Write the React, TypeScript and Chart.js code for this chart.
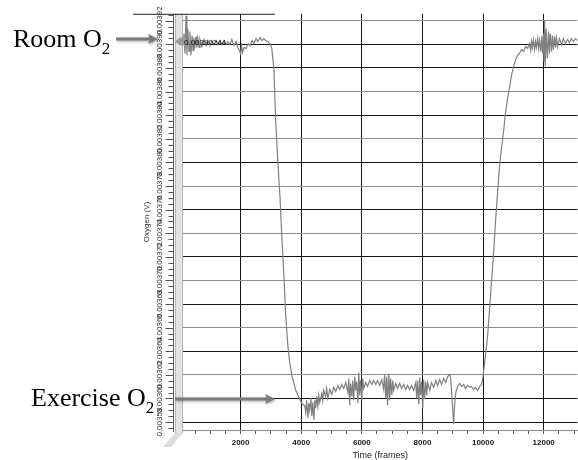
import React, { useEffect, useRef } from 'react';
import { Chart, registerables } from 'chart.js';

Chart.register(...registerables);

// ---- Data (frames, volts) ----
// Room air baseline + fall to exercise level
const roomFrames = [
  100, 130, 165, 200, 230, 260, 300, 330, 360, 400, 430, 460, 490, 530, 560, 590, 630, 660,
  720, 790, 860, 920, 990, 1050, 1120, 1190, 1250, 1320, 1380, 1450, 1520, 1580, 1650, 1710,
  1780, 1850, 1910, 2000, 2030, 2060, 2120, 2180, 2250, 2310, 2380, 2440, 2510, 2570, 2640,
  2700, 2770, 2830, 2900, 2970, 3030, 3100, 3160, 3230, 3300, 3360, 3430, 3490, 3560, 3620,
  3690, 3760, 3820, 3890, 3950, 4020, 4090,
];
const roomVolts = [
  0.0039016, 0.0039091, 0.0038923, 0.0039242, 0.0038907, 0.0039133, 0.003894, 0.0039108,
  0.0038907, 0.0039074, 0.0038949, 0.0039058, 0.0038965, 0.0039066, 0.0038974, 0.0039049,
  0.0038974, 0.0039041, 0.0038982, 0.0039041, 0.003899, 0.0039032, 0.003899, 0.0039032,
  0.0038999, 0.0039032, 0.0038999, 0.0039032, 0.0038999, 0.0039032, 0.0038999, 0.0039024,
  0.0038999, 0.0039041, 0.003899, 0.0039024, 0.0038974, 0.0038923, 0.003899, 0.0038932,
  0.0038974, 0.0038965, 0.0039007, 0.003899, 0.0039032, 0.0039007, 0.0039049, 0.0039024,
  0.0039058, 0.0039032, 0.0039049, 0.0039032, 0.0039024, 0.0039007, 0.0038965, 0.0038781,
  0.0038336, 0.0038, 0.0037706, 0.003737, 0.0037034, 0.0036698, 0.0036446, 0.0036304,
  0.0036195, 0.0036127, 0.0036069, 0.0036027, 0.0035993, 0.003596, 0.0035943,
];

// Exercise plateau
const exerciseFrames = [
  4120, 4150, 4180, 4220, 4250, 4280, 4320, 4350, 4380, 4420, 4450, 4480, 4510, 4550, 4580,
  4610, 4680, 4710, 4740, 4810, 4840, 4880, 4940, 5010, 5070, 5140, 5210, 5270, 5340, 5400,
  5470, 5540, 5570, 5600, 5630, 5670, 5700, 5730, 5770, 5800, 5830, 5870, 5900, 5930, 5960,
  6000, 6030, 6060, 6130, 6190, 6260, 6330, 6390, 6460, 6520, 6590, 6660, 6720, 6750, 6790,
  6820, 6850, 6890, 6920, 6950, 6990, 7020, 7050, 7120, 7180, 7250, 7310, 7380, 7450, 7510,
  7580, 7640, 7710, 7780, 7810, 7840, 7880, 7910, 7940, 7970, 8010, 8040, 8070, 8110, 8140,
  8170, 8240, 8300, 8370, 8440, 8500, 8570, 8630, 8700, 8770, 8830, 8900, 8930, 8960, 9000,
  9030, 9060, 9100, 9160, 9230, 9290, 9360, 9420, 9490, 9560, 9620, 9690, 9750, 9820, 9890,
  9950, 9990,
];
const exerciseVolts = [
  0.0035934, 0.0035884, 0.0035985, 0.0035834, 0.003596, 0.0035901, 0.0036002, 0.003585,
  0.0035968, 0.0035817, 0.0035985, 0.0035918, 0.0036018, 0.0035934, 0.0036027, 0.0035968,
  0.0036043, 0.0035985, 0.0036069, 0.0036018, 0.0036085, 0.0036002, 0.0036077, 0.0036035,
  0.0036094, 0.003606, 0.0036111, 0.0036077, 0.0036119, 0.0036085, 0.0036136, 0.0036052,
  0.0036169, 0.0035943, 0.0036127, 0.0036018, 0.0036153, 0.0035985, 0.0036186, 0.0036069,
  0.0036144, 0.003596, 0.003622, 0.0036027, 0.0036153, 0.0035985, 0.0036169, 0.0036085,
  0.0036136, 0.0036102, 0.0036153, 0.0036119, 0.0036153, 0.0036119, 0.0036153, 0.0036111,
  0.0036161, 0.0036077, 0.0036203, 0.0036002, 0.0036186, 0.0035943, 0.0036211, 0.0035985,
  0.0036169, 0.0036027, 0.0036153, 0.0036069, 0.0036127, 0.0036085, 0.0036127, 0.0036085,
  0.0036119, 0.0036077, 0.0036111, 0.0036077, 0.0036111, 0.0036069, 0.0036136, 0.0036002,
  0.0036153, 0.0035951, 0.0036178, 0.0036027, 0.0036144, 0.0035918, 0.0036161, 0.0035993,
  0.0036144, 0.0036027, 0.0036136, 0.0036069, 0.0036136, 0.0036094, 0.0036153, 0.0036111,
  0.0036161, 0.0036119, 0.0036169, 0.0036136, 0.0036186, 0.0036203, 0.0036169, 0.0036069,
  0.0035901, 0.0035783, 0.0035943, 0.0036052, 0.0036102, 0.0036127, 0.0036102, 0.0036119,
  0.0036085, 0.0036111, 0.0036094, 0.0036102, 0.0036077, 0.0036094, 0.0036069, 0.0036102,
  0.0036119, 0.0036169,
];

// Recovery back to room air
const recoveryFrames = [
  10020, 10080, 10150, 10210, 10280, 10350, 10410, 10480, 10540, 10610, 10680, 10740, 10810,
  10870, 10940, 11010, 11070, 11140, 11200, 11270, 11340, 11400, 11470, 11530, 11570, 11600,
  11630, 11660, 11700, 11730, 11760, 11800, 11830, 11860, 11900, 11930, 11960, 11990, 12010,
  12030, 12050, 12080, 12120, 12160, 12190, 12220, 12260, 12290, 12320, 12360, 12390, 12420,
  12460, 12520, 12590, 12650, 12720, 12790, 12850, 12920, 12980, 13050, 13110,
];
const recoveryVolts = [
  0.0036237, 0.0036363, 0.003653, 0.003674, 0.0036992, 0.0037244, 0.0037496, 0.0037748,
  0.0037958, 0.0038126, 0.0038268, 0.003842, 0.0038545, 0.0038629, 0.0038739, 0.0038814,
  0.0038865, 0.0038907, 0.0038923, 0.0038957, 0.003894, 0.0038982, 0.0038965, 0.0039007,
  0.0038949, 0.0039024, 0.0038974, 0.0039041, 0.0038957, 0.0039024, 0.0038974, 0.0039049,
  0.0038965, 0.0039032, 0.003894, 0.0039066, 0.0038923, 0.0039091, 0.0038856, 0.00392,
  0.0038814, 0.0039133, 0.0038881, 0.0039108, 0.0038923, 0.0039091, 0.003894, 0.0039074,
  0.0038957, 0.0039066, 0.0038974, 0.0039058, 0.0038982, 0.0039049, 0.0038999, 0.0039049,
  0.0039007, 0.0039041, 0.0039016, 0.0039049, 0.0039024, 0.0039049, 0.0039032,
];

// Axis settings
const xRange = [100, 13115];
const yRange = [0.0035733, 0.0039259];
const xMinorStep = 500;
const xLabelStep = 2000;
const yStep = 0.00002;
const yMinorStep = 0.000005;
const cursorValue = 0.00390244;

const xTitle = 'Time (frames)';
const yTitle = 'Oxygen (V)';
const roomLabel = 'Room O';
const exerciseLabel = 'Exercise O';
const subscript = '2';

const SANS = "'Liberation Sans', Arial, sans-serif";
const SERIF = "'Liberation Serif', 'Times New Roman', serif";

function drawArrow(ctx: CanvasRenderingContext2D, x1: number, y: number, x2: number) {
  ctx.save();
  ctx.shadowColor = 'rgba(0,0,0,0.35)';
  ctx.shadowBlur = 3;
  ctx.shadowOffsetX = 1;
  ctx.shadowOffsetY = 1;
  ctx.strokeStyle = '#7b7b7b';
  ctx.fillStyle = '#7b7b7b';
  ctx.lineWidth = 3;
  ctx.beginPath();
  ctx.moveTo(x1, y);
  ctx.lineTo(x2 - 7, y);
  ctx.stroke();
  ctx.beginPath();
  ctx.moveTo(x2, y);
  ctx.lineTo(x2 - 10, y - 5);
  ctx.lineTo(x2 - 8, y);
  ctx.lineTo(x2 - 10, y + 5);
  ctx.closePath();
  ctx.fill();
  ctx.restore();
}

const decorPlugin = {
  id: 'decor',
  beforeDatasetsDraw(chart: any) {
    const { ctx, chartArea: a, scales } = chart;
    const y = scales.y;
    ctx.save();
    // 3D side wall of the plot
    const wallL = a.left - 8;
    ctx.fillStyle = '#e3e3e3';
    ctx.fillRect(wallL, a.top, 8, a.bottom - a.top + 3);
    ctx.beginPath();
    ctx.moveTo(wallL, a.bottom + 3);
    ctx.lineTo(a.left, a.bottom + 3);
    ctx.lineTo(a.left - 12, a.bottom + 17);
    ctx.lineTo(a.left - 20, a.bottom + 17);
    ctx.closePath();
    ctx.fillStyle = '#dcdcdc';
    ctx.fill();
    ctx.strokeStyle = '#b5b5b5';
    ctx.lineWidth = 1;
    ctx.beginPath();
    ctx.moveTo(wallL + 0.5, a.top);
    ctx.lineTo(wallL + 0.5, a.bottom + 3);
    ctx.moveTo(a.left - 0.5, a.top);
    ctx.lineTo(a.left - 0.5, a.bottom + 3);
    ctx.stroke();

    // y axis line + major/minor ticks
    const axX = wallL - 1.5;
    ctx.strokeStyle = '#555';
    ctx.beginPath();
    ctx.moveTo(axX, a.top);
    ctx.lineTo(axX, a.bottom + 2);
    for (let v = Math.ceil(y.min / yMinorStep) * yMinorStep; v <= y.max; v += yMinorStep) {
      const n = Math.round(v / yMinorStep);
      const py = Math.round(y.getPixelForValue(n * yMinorStep)) + 0.5;
      const major = n % 4 === 0;
      ctx.moveTo(axX, py);
      ctx.lineTo(axX - (major ? 8 : 5), py);
    }
    ctx.stroke();

    // partial frame line at the top
    ctx.strokeStyle = '#222';
    ctx.beginPath();
    ctx.moveTo(a.left - 50, a.top + 0.5);
    ctx.lineTo(a.left + 92, a.top + 0.5);
    ctx.stroke();
    ctx.restore();
  },
  afterDatasetsDraw(chart: any) {
    const { ctx, chartArea: a, scales } = chart;
    const py = scales.y.getPixelForValue(cursorValue);
    ctx.save();
    // cursor readout
    ctx.fillStyle = '#9a9a9a';
    ctx.beginPath();
    ctx.moveTo(a.left - 8, py);
    ctx.lineTo(a.left - 3, py - 4);
    ctx.lineTo(a.left + 3, py - 4);
    ctx.lineTo(a.left + 3, py + 4);
    ctx.lineTo(a.left - 3, py + 4);
    ctx.closePath();
    ctx.fill();
    ctx.fillStyle = '#111';
    ctx.font = `8px ${SANS}`;
    ctx.textBaseline = 'middle';
    ctx.textAlign = 'left';
    ctx.fillText(cursorValue.toFixed(8), a.left + 1, py + 1);
    ctx.restore();
  },
  afterDraw(chart: any) {
    const { ctx } = chart;
    ctx.save();
    ctx.fillStyle = '#000';
    ctx.textBaseline = 'alphabetic';
    ctx.textAlign = 'left';
    ctx.font = `26px ${SERIF}`;
    ctx.fillText(roomLabel, 13, 47);
    const w1 = ctx.measureText(roomLabel).width;
    ctx.fillText(exerciseLabel, 31, 406);
    const w2 = ctx.measureText(exerciseLabel).width;
    ctx.font = `17px ${SERIF}`;
    ctx.fillText(subscript, 13 + w1, 54);
    ctx.fillText(subscript, 31 + w2, 413);
    ctx.restore();
    drawArrow(ctx, 116, 39, 158);
    drawArrow(ctx, 175, 399, 275);
  },
};

export default function App() {
  const ref = useRef<HTMLCanvasElement | null>(null);

  useEffect(() => {
    if (!ref.current) return;
    const points = [
      ...roomFrames.map((x, i) => ({ x, y: roomVolts[i] })),
      ...exerciseFrames.map((x, i) => ({ x, y: exerciseVolts[i] })),
      ...recoveryFrames.map((x, i) => ({ x, y: recoveryVolts[i] })),
    ];
    const isLabel = (v: number) => Math.abs(v % xLabelStep) < 1e-6;
    const chart = new Chart(ref.current, {
      type: 'line',
      data: {
        datasets: [
          {
            data: points,
            borderColor: '#808080',
            borderWidth: 1.2,
            pointRadius: 0,
            tension: 0,
          },
        ],
      },
      options: {
        responsive: false,
        animation: false,
        devicePixelRatio: 1,
        layout: { padding: { top: 10, left: 0, right: 0, bottom: 0 } },
        plugins: { legend: { display: false }, tooltip: { enabled: false } },
        scales: {
          x: {
            type: 'linear',
            min: xRange[0],
            max: xRange[1],
            afterBuildTicks: (s: any) => {
              const t: any[] = [];
              for (let v = Math.ceil(s.min / xMinorStep) * xMinorStep; v <= s.max; v += xMinorStep) {
                t.push({ value: v });
              }
              s.ticks = t;
            },
            afterFit: (s: any) => {
              s.height = 30;
            },
            border: { display: true, color: '#8a8a8a', width: 1 },
            grid: {
              color: (c: any) => (c.tick && isLabel(c.tick.value) ? '#151515' : 'rgba(0,0,0,0)'),
              tickColor: '#555',
              tickLength: 4,
              drawTicks: true,
            },
            ticks: {
              autoSkip: false,
              maxRotation: 0,
              padding: 4,
              color: '#1a1a1a',
              font: { family: SANS, size: 8, weight: 'bold' },
              callback: (v: any) => (isLabel(Number(v)) ? String(v) : ''),
            },
            title: {
              display: true,
              text: xTitle,
              color: '#1a1a1a',
              font: { family: SANS, size: 9, lineHeight: 1 },
              padding: { top: 0, bottom: 0 },
            },
          },
          y: {
            type: 'linear',
            min: yRange[0],
            max: yRange[1],
            afterFit: (s: any) => {
              s.width = 183;
            },
            border: { display: false },
            grid: {
              drawTicks: false,
              color: (c: any) => {
                const n = Math.round(c.tick.value / yStep);
                return (n % 2 === 0 && n !== 196) || n === 179 || n === 195 ? '#151515' : '#8f8f8f';
              },
            },
            ticks: {
              stepSize: yStep,
              includeBounds: false,
              autoSkip: false,
              minRotation: 90,
              maxRotation: 90,
              crossAlign: 'center',
              padding: 9,
              color: '#333',
              font: { family: SANS, size: 8 },
              callback: (v: any) => Number(v).toFixed(5),
            },
            title: {
              display: true,
              text: yTitle,
              color: '#333',
              font: { family: SANS, size: 8 },
              padding: { top: 142, bottom: 0 },
            },
          },
        },
      },
      plugins: [decorPlugin],
    } as any);
    return () => chart.destroy();
  }, []);

  return (
    <div style={{ position: 'fixed', left: 0, top: 0, width: 578, height: 460, background: '#fff' }}>
      <canvas ref={ref} width={578} height={460} style={{ display: 'block' }} />
    </div>
  );
}
